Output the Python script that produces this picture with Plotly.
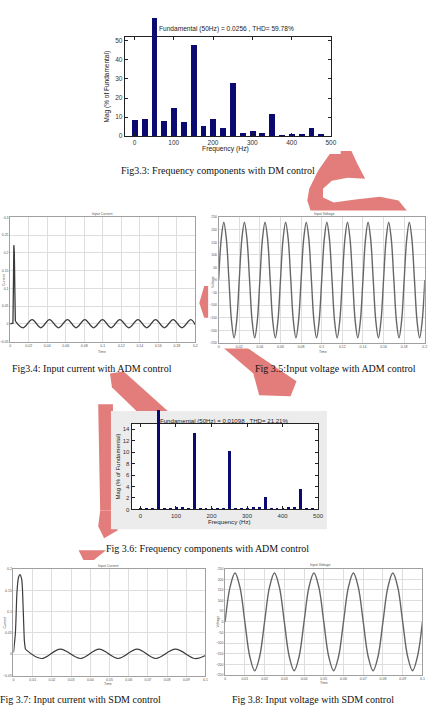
import plotly.graph_objects as go

W, H = 435, 716


def fx(x):
    return x / W


def fy(y):
    return 1 - y / H


# ---------------- data ----------------
# Fig 3.3 : DM spectrum
dm_freq = [0, 25, 50, 75, 100, 125, 150, 175, 200, 225, 250, 275, 300, 325,
           350, 375, 400, 425, 450, 475]
dm_mag = [8.7, 9.0, 62.0, 7.8, 14.8, 7.5, 47.8, 5.2, 8.9, 4.5, 27.8, 2.0,
          2.8, 1.5, 11.7, 0.5, 1.2, 1.0, 4.4, 1.0]
dm_title = "Fundamental (50Hz) = 0.0256 , THD= 59.78%"

# Fig 3.6 : ADM spectrum
adm_freq = [0, 16.7, 33.3, 50, 66.7, 83.3, 100, 116.7, 133.3, 150, 166.7,
            183.3, 200, 216.7, 233.3, 250, 266.7, 283.3, 300, 316.7, 333.3,
            350, 366.7, 383.3, 400, 416.7, 433.3, 450, 466.7, 483.3]
adm_mag = [0.1, 0.25, 0.25, 17.4, 0.3, 0.3, 0.35, 0.35, 0.3, 13.4, 0.3, 0.25,
           0.3, 0.3, 0.3, 10.2, 0.25, 0.25, 0.3, 0.5, 0.4, 2.2, 0.3, 0.3, 0.3,
           0.35, 0.35, 3.6, 0.2, 0.15]
adm_title = "Fundamental (50Hz) = 0.01098 , THD= 21.21%"

# Fig 3.4 : ADM input current (start-up spike + ripple)
adm_spike_t = [0.0, 0.0030, 0.0036, 0.0040, 0.0045, 0.0051, 0.0056]
adm_spike_i = [0.0, 0.002, 0.12, 0.222, 0.20, 0.09, 0.008]
adm_rip_t = [0.0056, 0.0140, 0.0237, 0.0331, 0.0425, 0.0522, 0.0619, 0.0712,
             0.0806, 0.0901, 0.0997, 0.1090, 0.1184, 0.1282, 0.1380, 0.1475,
             0.1570, 0.1665, 0.1760, 0.1855, 0.1950, 0.2000]
adm_rip_i = [0.008, -0.011, 0.012, -0.011, 0.012, -0.011, 0.012, -0.011,
             0.012, -0.011, 0.012, -0.011, 0.012, -0.011, 0.012, -0.011,
             0.012, -0.011, 0.012, -0.011, 0.012, -0.003]

# Fig 3.5 : ADM input voltage (samples every 2.5 ms)
adm_v_dt = 0.0025
adm_v = [0, 163, 230, 163, 0, -163, -230, -163,
         0, 163, 230, 163, 0, -163, -230, -163,
         0, 163, 230, 163, 0, -163, -230, -163,
         0, 163, 230, 163, 0, -163, -230, -163,
         0, 163, 230, 163, 0, -163, -230, -163,
         0, 163, 230, 163, 0, -163, -230, -163,
         0, 163, 230, 163, 0, -163, -230, -163,
         0, 163, 230, 163, 0, -163, -230, -163,
         0, 163, 230, 163, 0, -163, -230, -163,
         0, 163, 230, 163, 0, -163, -230, -163,
         0]

# Fig 3.7 : SDM input current
sdm_spike_t = [0.0, 0.0010, 0.0018, 0.0026, 0.0034, 0.0043, 0.0051, 0.0057, 0.0062]
sdm_spike_i = [0.004, 0.05, 0.145, 0.180, 0.187, 0.175, 0.100, 0.030, 0.012]
sdm_rip_t = [0.0062, 0.0145, 0.0244, 0.0349, 0.0446, 0.0545, 0.0644, 0.0741,
             0.0843, 0.0945, 0.1000]
sdm_rip_i = [0.012, -0.010, 0.012, -0.010, 0.012, -0.010, 0.012, -0.010,
             0.012, -0.010, -0.003]

# Fig 3.8 : SDM input voltage (samples every 2.5 ms)
sdm_v_dt = 0.0025
sdm_v = [0, 163, 230, 163, 0, -163, -230, -163,
         0, 163, 230, 163, 0, -163, -230, -163,
         0, 163, 230, 163, 0, -163, -230, -163,
         0, 163, 230, 163, 0, -163, -230, -163,
         0, 163, 230, 163, 0, -163, -230, -163,
         0]

cur_ticks_adm = [-0.05, 0, 0.05, 0.1, 0.15, 0.2, 0.25, 0.3]
cur_ticks_sdm = [-0.05, 0, 0.05, 0.1, 0.15, 0.2]
volt_ticks = [-250, -200, -150, -100, -50, 0, 50, 100, 150, 200, 250]
t_ticks_02 = [0, 0.02, 0.04, 0.06, 0.08, 0.1, 0.12, 0.14, 0.16, 0.18, 0.2]
t_ticks_01 = [0, 0.01, 0.02, 0.03, 0.04, 0.05, 0.06, 0.07, 0.08, 0.09, 0.1]
f_ticks = [0, 100, 200, 300, 400, 500]

captions = [
    ("Fig3.3: Frequency components with DM control", 220, 170, "center"),
    ("Fig3.4: Input current with ADM control", 8, 369, "left"),
    ("Fig 3.5:Input voltage with ADM control", 340, 369, "center"),
    ("Fig 3.6: Frequency components with ADM control", 209, 550, "center"),
    ("Fig 3.7: Input current with SDM control", -4, 702, "left"),
    ("Fig 3.8: Input voltage with SDM control", 317, 702, "center"),
]

# ---------------- figure ----------------
fig = go.Figure()
BAR = "#0a0a70"
WAVE = "#3a3a3a"
VWAVE = "#666666"

# axis geometry (pixels) for the two spectra; MATLAB lets the fundamental bar
# run above the axes box, so an invisible taller twin axis with the same scale
# carries the bars that exceed the box.
P1_top, P1_bot, P1_ymax, P1_ext = 35, 135, 52.2, 14
P4_top, P4_bot, P4_ymax, P4_ext = 425, 511, 14.9, 410
P1_ymax_ext = P1_ymax * (P1_bot - P1_ext) / (P1_bot - P1_top)
P4_ymax_ext = P4_ymax * (P4_bot - P4_ext) / (P4_bot - P4_top)


def split(freq, mag, lim):
    a = [(f, m) for f, m in zip(freq, mag) if m <= lim]
    b = [(f, m) for f, m in zip(freq, mag) if m > lim]
    return [p[0] for p in a], [p[1] for p in a], [p[0] for p in b], [p[1] for p in b]


f1, m1, f1t, m1t = split(dm_freq, dm_mag, P1_ymax)
f4, m4, f4t, m4t = split(adm_freq, adm_mag, P4_ymax)

fig.add_trace(go.Bar(x=f1, y=m1, width=15, marker_color=BAR, marker_line_width=0,
                     xaxis="x", yaxis="y"))
fig.add_trace(go.Bar(x=f1t, y=m1t, width=15, marker_color=BAR, marker_line_width=0,
                     xaxis="x7", yaxis="y7"))
fig.add_trace(go.Bar(x=f4, y=m4, width=8, marker_color=BAR, marker_line_width=0,
                     xaxis="x4", yaxis="y4"))
fig.add_trace(go.Bar(x=f4t, y=m4t, width=8, marker_color=BAR, marker_line_width=0,
                     xaxis="x8", yaxis="y8"))

fig.add_trace(go.Scatter(x=adm_spike_t, y=adm_spike_i, mode="lines",
                         line=dict(color=WAVE, width=1.3), xaxis="x2", yaxis="y2"))
fig.add_trace(go.Scatter(x=adm_rip_t, y=adm_rip_i, mode="lines",
                         line=dict(color=WAVE, width=1.3, shape="spline"),
                         xaxis="x2", yaxis="y2"))
fig.add_trace(go.Scatter(x=[i * adm_v_dt for i in range(len(adm_v))], y=adm_v,
                         mode="lines", line=dict(color=VWAVE, width=1.4, shape="spline"),
                         xaxis="x3", yaxis="y3"))
fig.add_trace(go.Scatter(x=sdm_spike_t, y=sdm_spike_i, mode="lines",
                         line=dict(color=WAVE, width=1.2, shape="spline", smoothing=0.7),
                         xaxis="x5", yaxis="y5"))
fig.add_trace(go.Scatter(x=sdm_rip_t, y=sdm_rip_i, mode="lines",
                         line=dict(color=WAVE, width=1.2, shape="spline"),
                         xaxis="x5", yaxis="y5"))
fig.add_trace(go.Scatter(x=[i * sdm_v_dt for i in range(len(sdm_v))], y=sdm_v,
                         mode="lines", line=dict(color=VWAVE, width=1.4, shape="spline"),
                         xaxis="x6", yaxis="y6"))


def spec_axis(dom, rng, ticks, anchor, size):
    return dict(domain=[dom[0], dom[1]], range=rng, tickvals=ticks, anchor=anchor,
                ticks="inside", ticklen=3, tickwidth=0.8, tickcolor="#222",
                showline=True, linecolor="#222", linewidth=1, mirror="allticks",
                showgrid=False, zeroline=False, fixedrange=True,
                tickfont=dict(size=size, family="Liberation Sans", color="#333"))


def hidden_axis(dom, rng, anchor):
    return dict(domain=[dom[0], dom[1]], range=rng, anchor=anchor, visible=False,
                showgrid=False, zeroline=False, fixedrange=True)


def time_axis(dom, rng, ticks, anchor):
    return dict(domain=[dom[0], dom[1]], range=rng, tickvals=ticks, anchor=anchor,
                ticks="", showline=True, linecolor="#a0a0a0", linewidth=0.8,
                mirror=True, showgrid=True, gridcolor="#dedede", gridwidth=0.6,
                zeroline=False, fixedrange=True,
                tickfont=dict(size=3.5, family="Liberation Sans", color="#555"))


lay = dict(width=W, height=H, margin=dict(l=0, r=0, t=0, b=0),
           paper_bgcolor="white", plot_bgcolor="rgba(0,0,0,0)", showlegend=False,
           bargap=0)

# P1 DM spectrum
lay["xaxis"] = spec_axis((fx(125), fx(335)), [-25, 500], f_ticks, "y", 6.5)
lay["yaxis"] = spec_axis((fy(P1_bot), fy(P1_top)), [0, P1_ymax], [0, 10, 20, 30, 40, 50], "x", 6.5)
lay["xaxis7"] = hidden_axis((fx(125), fx(335)), [-25, 500], "y7")
lay["yaxis7"] = hidden_axis((fy(P1_bot), fy(P1_ext)), [0, P1_ymax_ext], "x7")
# P2 ADM current
lay["xaxis2"] = time_axis((fx(8.3), fx(197)), [0, 0.2], t_ticks_02, "y2")
lay["yaxis2"] = time_axis((fy(342), fy(217)), [-0.05, 0.3], cur_ticks_adm, "x2")
# P3 ADM voltage
lay["xaxis3"] = time_axis((fx(220.7), fx(430.7)), [0, 0.2], t_ticks_02, "y3")
lay["yaxis3"] = time_axis((fy(343.3), fy(216.7)), [-250, 250], volt_ticks, "x3")
# P4 ADM spectrum
lay["xaxis4"] = spec_axis((fx(132), fx(322)), [-25, 500], f_ticks, "y4", 6)
lay["yaxis4"] = spec_axis((fy(P4_bot), fy(P4_top)), [0, P4_ymax], [0, 2, 4, 6, 8, 10, 12, 14], "x4", 6)
lay["xaxis8"] = hidden_axis((fx(132), fx(322)), [-25, 500], "y8")
lay["yaxis8"] = hidden_axis((fy(P4_bot), fy(P4_ext)), [0, P4_ymax_ext], "x8")
# P5 SDM current
lay["xaxis5"] = time_axis((fx(11.7), fx(207.3)), [0, 0.1], t_ticks_01, "y5")
lay["yaxis5"] = time_axis((fy(678.3), fy(571)), [-0.05, 0.2], cur_ticks_sdm, "x5")
# P6 SDM voltage
lay["xaxis6"] = time_axis((fx(227.3), fx(428.3)), [0, 0.1], t_ticks_01, "y6")
lay["yaxis6"] = time_axis((fy(677.7), fy(570.7)), [-250, 250], volt_ticks, "x6")

# ---------------- watermark (behind the figure images) ----------------
RED = "#e27d7b"


def poly(pts):
    return "M " + " L ".join(f"{fx(x):.5f},{fy(y):.5f}" for x, y in pts) + " Z"


wm_polys = [
    # swoosh between fig3.3 and fig3.5
    [(336, 150), (322, 170), (313, 188), (311, 200), (315, 212), (414, 212),
     (404, 200), (385, 196), (360, 199), (338, 202), (327, 197), (327, 188),
     (336, 180), (352, 177), (370, 178), (362, 163), (356, 150)],
    # sliver between fig3.4 and fig3.5
    [(206, 286), (212, 286), (212, 318), (206, 318), (201, 303)],
    # diagonal band under fig3.5
    [(224, 347), (248, 347), (300, 382), (294, 397), (262, 396), (256, 374)],
    # band above fig3.6 panel (left)
    [(110, 374), (124, 372), (170, 413), (138, 413), (112, 388)],
    # stroke left of fig3.6 panel
    [(98, 405), (113, 405), (113, 512), (100, 512)],
    [(100, 512), (113, 512), (118, 532), (104, 540), (98, 528)],
    # tip above fig3.7
    [(78, 552), (106, 552), (86, 568)],
]

shapes = []
for p in wm_polys:
    shapes.append(dict(type="path", path=poly(p), xref="paper", yref="paper",
                       fillcolor=RED, line=dict(width=0), layer="below"))

# opaque figure images masking the watermark
masks = [(95, 8, 345, 153), (0, 200, 200, 358), (210, 210, 435, 349),
         (0, 562, 212, 690), (218, 560, 435, 690)]
for x0, y0, x1, y1 in masks:
    shapes.append(dict(type="rect", xref="paper", yref="paper",
                       x0=fx(x0), x1=fx(x1), y0=fy(y1), y1=fy(y0),
                       fillcolor="white", line=dict(width=0), layer="below"))
# grey MATLAB figure background of fig 3.6
shapes.append(dict(type="rect", xref="paper", yref="paper",
                   x0=fx(111), x1=fx(331), y0=fy(531), y1=fy(412),
                   fillcolor="#ececec", line=dict(width=0), layer="below"))
shapes.append(dict(type="rect", xref="paper", yref="paper",
                   x0=fx(132), x1=fx(322), y0=fy(P4_bot), y1=fy(P4_top),
                   fillcolor="white", line=dict(width=0), layer="below"))
lay["shapes"] = shapes

# ---------------- annotations ----------------
ann = []


def txt(text, x, y, size, family="Liberation Sans", color="#222", angle=0, xanchor="center"):
    ann.append(dict(text=text, x=fx(x), y=fy(y), xref="paper", yref="paper",
                    showarrow=False, textangle=angle, xanchor=xanchor, yanchor="middle",
                    font=dict(size=size, family=family, color=color)))


txt(dm_title, 229, 27, 6.6)
txt("Mag (% of Fundamental)", 107, 85, 6.5, angle=-90)
txt("Frequency (Hz)", 228, 148, 6.8)

txt(adm_title, 227, 421, 6.1)
txt("Mag (% of Fundamental)", 118, 468, 6, angle=-90)
txt("Frequency (Hz)", 232, 523, 6.2)

for (t, x, y) in [("Input Current", 102, 213), ("Input Voltage", 328, 213),
                  ("Input Current", 108, 568), ("Input Voltage", 324, 567)]:
    txt(t, x, y, 3.5, color="#555")
for (t, x, y) in [("Time", 102, 352), ("Time", 327, 352), ("Time", 108, 687), ("Time", 328, 686)]:
    txt(t, x, y, 3.5, color="#555")
for (t, x, y) in [("Current", 2, 280), ("Voltage", 215, 282), ("Current", 3, 625), ("Voltage", 220, 624)]:
    txt(t, x, y, 3.5, color="#555", angle=-90)

for text, x, y, anc in captions:
    txt(text, x, y, 10, family="Liberation Serif", color="#111", xanchor=anc)

lay["annotations"] = ann
fig.update_layout(**lay)
fig.write_html("out.html")
